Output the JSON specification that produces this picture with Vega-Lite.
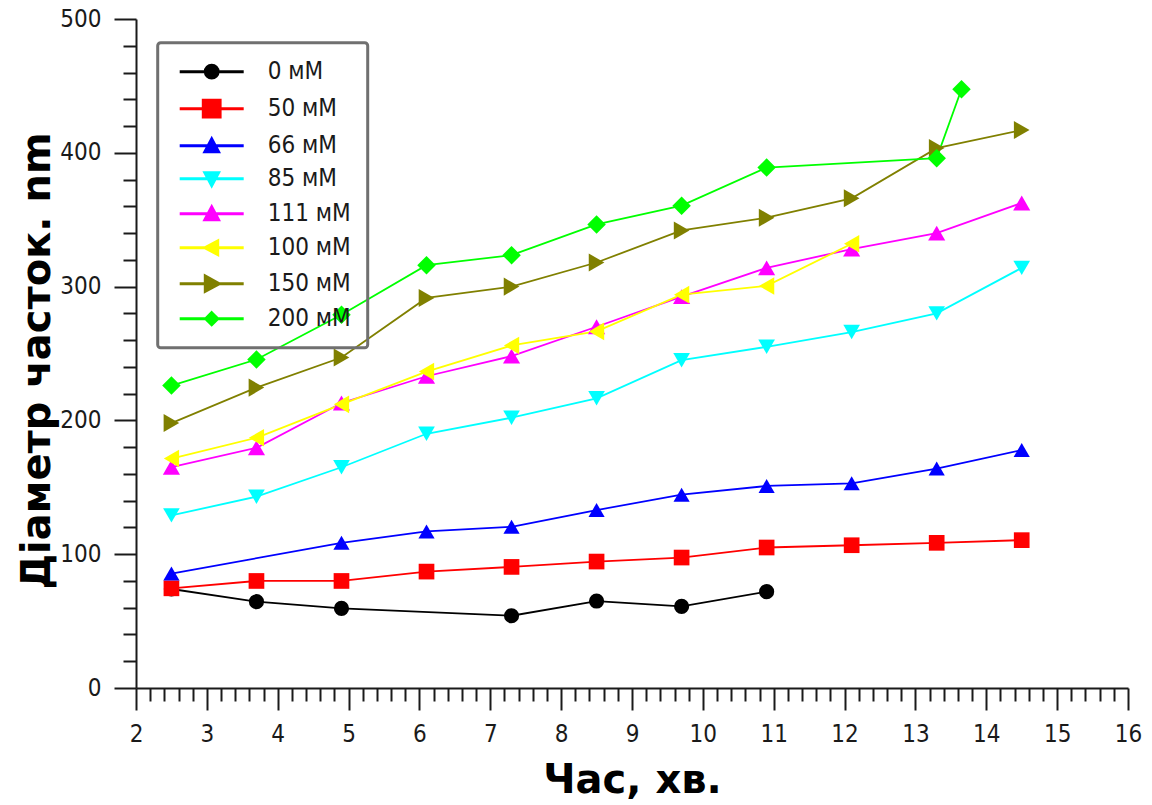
{
  "$schema": "https://vega.github.io/schema/vega-lite/v6.json",
  "width": 992,
  "height": 669,
  "autosize": {"type": "none"},
  "padding": {"left": 136, "top": 19, "right": 24, "bottom": 117},
  "background": "white",
  "config": {
    "view": {"stroke": null},
    "axis": {"grid": false},
    "legend": {
      "strokeColor": "#707070",
      "strokeWidth": 3,
      "cornerRadius": 3,
      "padding": 17,
      "symbolSize": 256,
      "symbolStrokeWidth": 3,
      "symbolOffset": 25,
      "labelOffset": 44,
      "labelFont": "DejaVu Sans Condensed, Liberation Sans, sans-serif",
      "labelFontSize": 24,
      "labelColor": "#1a1a1a",
      "rowPadding": 9,
      "symbolOpacity": 1
    }
  },
  "data": {
    "values": [
      {"c": "0 мМ", "t": 2.5, "d": 74},
      {"c": "0 мМ", "t": 3.7, "d": 64.5},
      {"c": "0 мМ", "t": 4.9, "d": 59.5},
      {"c": "0 мМ", "t": 7.3, "d": 54},
      {"c": "0 мМ", "t": 8.5, "d": 65},
      {"c": "0 мМ", "t": 9.7, "d": 61},
      {"c": "0 мМ", "t": 10.9, "d": 72},
      {"c": "50 мМ", "t": 2.5, "d": 74.5},
      {"c": "50 мМ", "t": 3.7, "d": 80},
      {"c": "50 мМ", "t": 4.9, "d": 80},
      {"c": "50 мМ", "t": 6.1, "d": 87},
      {"c": "50 мМ", "t": 7.3, "d": 90.5},
      {"c": "50 мМ", "t": 8.5, "d": 94.5},
      {"c": "50 мМ", "t": 9.7, "d": 97.5},
      {"c": "50 мМ", "t": 10.9, "d": 105},
      {"c": "50 мМ", "t": 12.1, "d": 106.7},
      {"c": "50 мМ", "t": 13.3, "d": 108.5},
      {"c": "50 мМ", "t": 14.5, "d": 110.5},
      {"c": "66 мМ", "t": 2.5, "d": 85.5},
      {"c": "66 мМ", "t": 4.9, "d": 108.5},
      {"c": "66 мМ", "t": 6.1, "d": 117},
      {"c": "66 мМ", "t": 7.3, "d": 120.5},
      {"c": "66 мМ", "t": 8.5, "d": 133},
      {"c": "66 мМ", "t": 9.7, "d": 144.5},
      {"c": "66 мМ", "t": 10.9, "d": 151},
      {"c": "66 мМ", "t": 12.1, "d": 153},
      {"c": "66 мМ", "t": 13.3, "d": 164},
      {"c": "66 мМ", "t": 14.5, "d": 177.8},
      {"c": "85 мМ", "t": 2.5, "d": 129},
      {"c": "85 мМ", "t": 3.7, "d": 143},
      {"c": "85 мМ", "t": 4.9, "d": 165},
      {"c": "85 мМ", "t": 6.1, "d": 190},
      {"c": "85 мМ", "t": 7.3, "d": 202},
      {"c": "85 мМ", "t": 8.5, "d": 216.5},
      {"c": "85 мМ", "t": 9.7, "d": 245},
      {"c": "85 мМ", "t": 10.9, "d": 255},
      {"c": "85 мМ", "t": 12.1, "d": 266},
      {"c": "85 мМ", "t": 13.3, "d": 280},
      {"c": "85 мМ", "t": 14.5, "d": 314},
      {"c": "111 мМ", "t": 2.5, "d": 165},
      {"c": "111 мМ", "t": 3.7, "d": 179.5},
      {"c": "111 мМ", "t": 4.9, "d": 213},
      {"c": "111 мМ", "t": 6.1, "d": 233},
      {"c": "111 мМ", "t": 7.3, "d": 248},
      {"c": "111 мМ", "t": 8.5, "d": 270},
      {"c": "111 мМ", "t": 9.7, "d": 292.5},
      {"c": "111 мМ", "t": 10.9, "d": 314},
      {"c": "111 мМ", "t": 12.1, "d": 328},
      {"c": "111 мМ", "t": 13.3, "d": 340},
      {"c": "111 мМ", "t": 14.5, "d": 362.5},
      {"c": "100 мМ", "t": 2.5, "d": 171.5},
      {"c": "100 мМ", "t": 3.7, "d": 187},
      {"c": "100 мМ", "t": 4.9, "d": 212},
      {"c": "100 мМ", "t": 6.1, "d": 236.5},
      {"c": "100 мМ", "t": 7.3, "d": 256},
      {"c": "100 мМ", "t": 8.5, "d": 266.5},
      {"c": "100 мМ", "t": 9.7, "d": 294},
      {"c": "100 мМ", "t": 10.9, "d": 300.5},
      {"c": "100 мМ", "t": 12.1, "d": 332},
      {"c": "150 мМ", "t": 2.5, "d": 198},
      {"c": "150 мМ", "t": 3.7, "d": 224.5},
      {"c": "150 мМ", "t": 4.9, "d": 247},
      {"c": "150 мМ", "t": 6.1, "d": 291.5},
      {"c": "150 мМ", "t": 7.3, "d": 300},
      {"c": "150 мМ", "t": 8.5, "d": 318},
      {"c": "150 мМ", "t": 9.7, "d": 342},
      {"c": "150 мМ", "t": 10.9, "d": 351.5},
      {"c": "150 мМ", "t": 12.1, "d": 366},
      {"c": "150 мМ", "t": 13.3, "d": 403.5},
      {"c": "150 мМ", "t": 14.5, "d": 417},
      {"c": "200 мМ", "t": 2.5, "d": 226},
      {"c": "200 мМ", "t": 3.7, "d": 245.5},
      {"c": "200 мМ", "t": 4.9, "d": 279},
      {"c": "200 мМ", "t": 6.1, "d": 316},
      {"c": "200 мМ", "t": 7.3, "d": 323.5},
      {"c": "200 мМ", "t": 8.5, "d": 346.5},
      {"c": "200 мМ", "t": 9.7, "d": 360.5},
      {"c": "200 мМ", "t": 10.9, "d": 389},
      {"c": "200 мМ", "t": 13.3, "d": 396},
      {"c": "200 мМ", "t": 13.65, "d": 447.5}
    ]
  },
  "layer": [
    {
      "mark": {"type": "line", "strokeWidth": 1.8},
      "encoding": {
        "x": {
          "field": "t", "type": "quantitative",
          "scale": {"domain": [2, 16], "nice": false, "zero": false},
          "axis": {
            "orient": "bottom",
            "values": [2, 3, 4, 5, 6, 7, 8, 9, 10, 11, 12, 13, 14, 15, 16],
            "tickSize": 22, "tickWidth": 2, "tickColor": "#1a1a1a",
            "domainWidth": 2, "domainColor": "#1a1a1a",
            "labelFont": "DejaVu Sans Condensed, Liberation Sans, sans-serif",
            "labelFontSize": 24, "labelColor": "#1a1a1a", "labelPadding": 12,
            "labelFlush": false, "labelOverlap": false,
            "title": "Час, хв.",
            "titleFont": "DejaVu Sans", "titleFontWeight": "bold", "titleFontSize": 40,
            "titleColor": "#000000", "titleBaseline": "alphabetic", "titleY": 104
          }
        },
        "y": {
          "field": "d", "type": "quantitative",
          "scale": {"domain": [0, 500], "nice": false},
          "axis": {
            "orient": "left",
            "values": [0, 100, 200, 300, 400, 500],
            "tickSize": 22, "tickWidth": 2, "tickColor": "#1a1a1a",
            "domainWidth": 2, "domainColor": "#1a1a1a",
            "labelFont": "DejaVu Sans Condensed, Liberation Sans, sans-serif",
            "labelFontSize": 24, "labelColor": "#1a1a1a", "labelPadding": 13,
            "labelFlush": false, "labelOverlap": false,
            "title": "Діаметр часток. nm",
            "titleFont": "DejaVu Sans", "titleFontWeight": "bold", "titleFontSize": 40,
            "titleColor": "#000000", "titleBaseline": "alphabetic", "titleAngle": 270,
            "titleX": -87, "titleY": 341.5, "titleAlign": "center"
          }
        },
        "color": {
          "field": "c", "type": "nominal",
          "scale": {
            "domain": ["0 мМ", "50 мМ", "66 мМ", "85 мМ", "111 мМ", "100 мМ", "150 мМ", "200 мМ"],
            "range": ["#000000", "#ff0000", "#0000ff", "#00ffff", "#ff00ff", "#ffff00", "#808000", "#00ff00"]
          },
          "legend": null
        }
      }
    },
    {
      "mark": {"type": "point", "filled": true, "opacity": 1},
      "encoding": {
        "x": {
          "field": "t", "type": "quantitative",
          "axis": {
            "orient": "bottom",
            "values": [2.2, 2.4, 2.6, 2.8, 3.2, 3.4, 3.6, 3.8, 4.2, 4.4, 4.6, 4.8, 5.2, 5.4, 5.6, 5.8, 6.2, 6.4, 6.6, 6.8, 7.2, 7.4, 7.6, 7.8, 8.2, 8.4, 8.6, 8.8, 9.2, 9.4, 9.6, 9.8, 10.2, 10.4, 10.6, 10.8, 11.2, 11.4, 11.6, 11.8, 12.2, 12.4, 12.6, 12.8, 13.2, 13.4, 13.6, 13.8, 14.2, 14.4, 14.6, 14.8, 15.2, 15.4, 15.6, 15.8],
            "tickSize": 13, "tickWidth": 2, "tickColor": "#1a1a1a",
            "labels": false, "domain": false, "title": null
          }
        },
        "y": {
          "field": "d", "type": "quantitative",
          "axis": {
            "orient": "left",
            "values": [20, 40, 60, 80, 120, 140, 160, 180, 220, 240, 260, 280, 320, 340, 360, 380, 420, 440, 460, 480],
            "tickSize": 13, "tickWidth": 2, "tickColor": "#1a1a1a",
            "labels": false, "domain": false, "title": null
          }
        },
        "color": {
          "field": "c", "type": "nominal",
          "scale": {
            "domain": ["0 мМ", "50 мМ", "66 мМ", "85 мМ", "111 мМ", "100 мМ", "150 мМ", "200 мМ"],
            "range": ["#000000", "#ff0000", "#0000ff", "#00ffff", "#ff00ff", "#ffff00", "#808000", "#00ff00"]
          },
          "legend": null
        },
        "shape": {
          "field": "c", "type": "nominal",
          "scale": {
            "domain": ["0 мМ", "50 мМ", "66 мМ", "85 мМ", "111 мМ", "100 мМ", "150 мМ", "200 мМ"],
            "range": ["circle", "square", "triangle-up", "triangle-down", "triangle-up", "triangle-left", "triangle-right", "diamond"]
          },
          "legend": null
        },
        "size": {
          "field": "c", "type": "ordinal",
          "scale": {
            "domain": ["0 мМ", "50 мМ", "66 мМ", "85 мМ", "111 мМ", "100 мМ", "150 мМ", "200 мМ"],
            "range": [230, 342, 210, 225, 210, 210, 240, 165]
          },
          "legend": null
        }
      }
    },
    {
      "transform": [{"filter": "false"}],
      "mark": {"type": "point", "filled": true},
      "encoding": {
        "x": {"field": "t", "type": "quantitative", "axis": null},
        "y": {"field": "d", "type": "quantitative", "axis": null},
        "color": {
          "field": "c", "type": "nominal",
          "scale": {
            "domain": ["0 мМ", "50 мМ", "66 мМ", "85 мМ", "111 мМ", "100 мМ", "150 мМ", "200 мМ"],
            "range": ["#000000", "#ff0000", "#0000ff", "#00ffff", "#ff00ff", "#ffff00", "#808000", "#00ff00"]
          },
          "legend": {"title": null, "orient": "none", "legendX": 21.7, "legendY": 23.7,
            "symbolStrokeWidth": 3, "symbolOpacity": 1,
            "encoding": {"symbols": {"update": {"strokeOpacity": {"value": 0.5}}}}}
        },
        "stroke": {
          "field": "c", "type": "nominal",
          "scale": {
            "domain": ["0 мМ", "50 мМ", "66 мМ", "85 мМ", "111 мМ", "100 мМ", "150 мМ", "200 мМ"],
            "range": ["#000000", "#ff0000", "#0000ff", "#00ffff", "#ff00ff", "#ffff00", "#808000", "#00ff00"]
          },
          "legend": {"title": null, "orient": "none", "legendX": 21.7, "legendY": 23.7,
            "symbolStrokeWidth": 3, "symbolOpacity": 1,
            "encoding": {"symbols": {"update": {"strokeOpacity": {"value": 0.5}}}}}
        },
        "shape": {
          "field": "c", "type": "nominal",
          "scale": {
            "domain": ["0 мМ", "50 мМ", "66 мМ", "85 мМ", "111 мМ", "100 мМ", "150 мМ", "200 мМ"],
            "range": [
              "M-4,0H4M-0.8,0A0.8,0.8,0,1,0,0.8,0A0.8,0.8,0,1,0,-0.8,0Z",
              "M-4,0H4M-1.05,-1.05H1.05V1.05H-1.05Z",
              "M-4,0H4M0,-0.85L0.85,0.75L-0.85,0.75Z",
              "M-4,0H4M0,0.85L0.85,-0.75L-0.85,-0.75Z",
              "M-4,0H4M0,-0.85L0.85,0.75L-0.85,0.75Z",
              "M-4,0H4M-0.85,0L0.75,-0.85L0.75,0.85Z",
              "M-4,0H4M0.95,0L-0.8,-0.95L-0.8,0.95Z",
              "M-4,0H4M0,-0.75L0.75,0L0,0.75L-0.75,0Z"
            ]
          },
          "legend": {"title": null, "orient": "none", "legendX": 21.7, "legendY": 23.7,
            "symbolStrokeWidth": 3, "symbolOpacity": 1,
            "encoding": {"symbols": {"update": {"strokeOpacity": {"value": 0.5}}}}}
        }
      }
    }
  ],
  "resolve": {
    "axis": {"x": "independent", "y": "independent"},
    "scale": {"color": "independent", "shape": "independent", "size": "independent", "stroke": "independent"}
  }
}
